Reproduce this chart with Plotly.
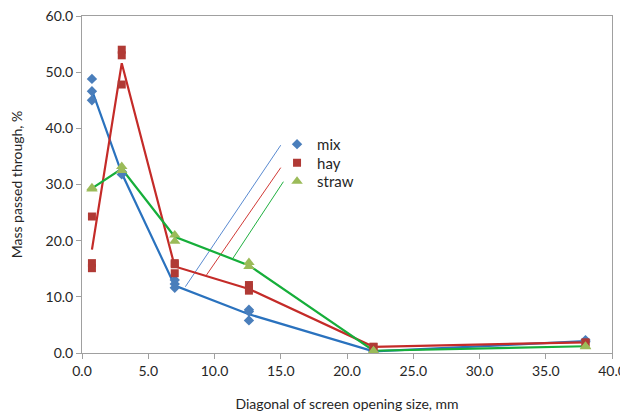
import plotly.graph_objects as go

# ---- data ----
mix_x = [0.75, 0.75, 0.75, 3.0, 3.0, 7.0, 7.0, 7.0, 12.6, 12.6, 12.6, 22.0, 22.0, 38.0, 38.0]
mix_y = [48.8, 46.6, 45.0, 32.3, 31.8, 13.0, 12.3, 11.6, 7.7, 7.4, 5.8, 0.3, 0.3, 2.3, 2.0]

hay_x = [0.75, 0.75, 0.75, 3.0, 3.0, 3.0, 7.0, 7.0, 7.0, 12.6, 12.6, 12.6, 22.0, 22.0, 38.0, 38.0]
hay_y = [24.3, 16.0, 15.1, 54.0, 53.0, 47.8, 16.0, 15.8, 14.2, 12.1, 11.6, 11.1, 1.1, 1.1, 1.9, 1.8]

straw_x = [0.75, 0.75, 3.0, 3.0, 7.0, 7.0, 12.6, 12.6, 22.0, 22.0, 38.0, 38.0]
straw_y = [29.2, 29.4, 33.2, 32.5, 21.0, 19.9, 16.1, 15.4, 0.4, 0.3, 1.2, 1.1]

line_x = [0.75, 3.0, 7.0, 12.6, 22.0, 38.0]
mix_line = [46.8, 32.0, 12.0, 6.9, 0.3, 2.1]
hay_line = [18.4, 51.6, 15.4, 11.4, 1.1, 1.9]
straw_line = [29.3, 32.8, 20.7, 15.6, 0.4, 1.2]

# thin leader lines
mix_lead_x = [7.8, 15.0]
mix_lead_y = [11.8, 37.0]
hay_lead_x = [9.4, 15.0]
hay_lead_y = [13.9, 33.0]
straw_lead_x = [11.4, 15.2]
straw_lead_y = [16.9, 30.5]

x_ticks = [0, 5, 10, 15, 20, 25, 30, 35, 40]
y_ticks = [0, 10, 20, 30, 40, 50, 60]

# ---- styles ----
BLUE_M, BLUE_L = "#4A7EBB", "#2A72BE"
RED_M, RED_L = "#B03A35", "#C42B28"
GRN_M, GRN_L = "#9BBB59", "#16AE3A"
FONT = "Lato"
TXT = "#262626"

fig = go.Figure()

# leader lines
for lx, ly, c in [(mix_lead_x, mix_lead_y, "#5A8AD0"),
                  (hay_lead_x, hay_lead_y, "#D03A36"),
                  (straw_lead_x, straw_lead_y, "#20B040")]:
    fig.add_trace(go.Scatter(x=lx, y=ly, mode="lines", line=dict(color=c, width=1),
                             showlegend=False, hoverinfo="skip"))

# mean lines
for ly, c in [(mix_line, BLUE_L), (hay_line, RED_L), (straw_line, GRN_L)]:
    fig.add_trace(go.Scatter(x=line_x, y=ly, mode="lines", line=dict(color=c, width=2.2),
                             showlegend=False, hoverinfo="skip"))

# markers
fig.add_trace(go.Scatter(x=mix_x, y=mix_y, mode="markers", name="mix", legend="legend",
                         marker=dict(symbol="diamond", size=8, color=BLUE_M)))
fig.add_trace(go.Scatter(x=hay_x, y=hay_y, mode="markers", name="hay", legend="legend2",
                         marker=dict(symbol="square", size=8, color=RED_M)))
fig.add_trace(go.Scatter(x=straw_x, y=straw_y, mode="markers", name="straw", legend="legend3",
                         marker=dict(symbol="triangle-up", size=10, color=GRN_M)))

axis_common = dict(showgrid=False, zeroline=False, showline=True, linecolor="#A0A0A0",
                   linewidth=1, mirror=True, ticks="outside", tickcolor="#A0A0A0",
                   ticklen=5, tickformat=".1f", automargin=False,
                   ticklabeloverflow="allow",
                   tickfont=dict(family=FONT, size=14, color=TXT))

fig.update_xaxes(range=[0, 40], tickvals=x_ticks,
                 title=dict(text="Diagonal of screen opening size, mm",
                            font=dict(family=FONT, size=14, color=TXT), standoff=21),
                 **axis_common)
fig.update_yaxes(range=[0, 60], tickvals=y_ticks,
                 title=dict(text="Mass passed through, %",
                            font=dict(family=FONT, size=14, color=TXT), standoff=20),
                 **axis_common)

leg_common = dict(x=0.368, xanchor="left", yanchor="top", bgcolor="rgba(0,0,0,0)",
                  font=dict(family=FONT, size=15, color=TXT), itemwidth=30)

fig.update_layout(
    width=620, height=412,
    margin=dict(l=74, r=16, t=8, b=67),
    paper_bgcolor="white", plot_bgcolor="white",
    font=dict(family=FONT),
    legend=dict(y=0.668, **leg_common),
    legend2=dict(y=0.613, **leg_common),
    legend3=dict(y=0.558, **leg_common),
    showlegend=True,
)

fig.write_html("out.html")
